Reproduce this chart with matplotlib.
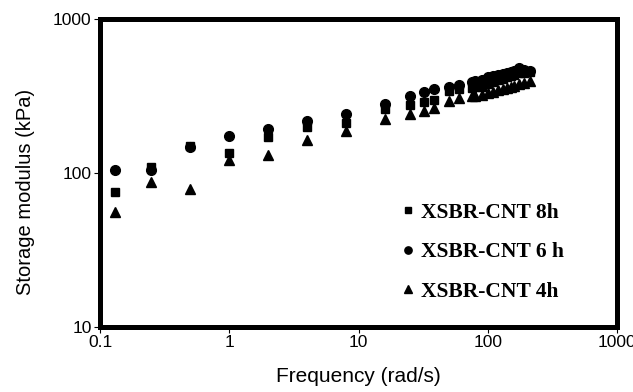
import matplotlib
matplotlib.use("Agg")
import matplotlib.pyplot as plt

freq = [0.13, 0.25, 0.5, 1, 2, 4, 8, 16, 25, 32, 38, 50, 60,
        75, 80, 90, 100, 110, 120, 130, 140, 150, 160, 175, 190, 210]

g_8h = [75, 109, 151, 136, 171, 200, 211, 260, 275, 290, 300, 339, 351,
        355, 360, 365, 380, 390, 400, 410, 420, 430, 435, 445, 450, 457]
g_6h = [105, 105, 147, 173, 192, 217, 243, 282, 316, 336, 352, 360, 375,
        390, 395, 400, 420, 425, 435, 440, 450, 455, 460, 480, 470, 462]
g_4h = [56, 87, 79, 121, 131, 165, 189, 225, 243, 254, 264, 292, 307,
        315, 318, 320, 330, 335, 345, 350, 355, 365, 370, 380, 385, 394]

labels = ["XSBR-CNT 8h", "XSBR-CNT 6 h", "XSBR-CNT 4h"]

plt.rcParams['font.family'] = ['Liberation Sans', 'DejaVu Sans']

fig = plt.figure(figsize=(6.33, 3.92), dpi=100)
ax = fig.add_axes([0.158, 0.166, 0.817, 0.785])

ax.plot(freq, g_8h, linestyle='none', marker='s', ms=6, color='black', label=labels[0])
ax.plot(freq, g_6h, linestyle='none', marker='o', ms=7, color='black', label=labels[1])
ax.plot(freq, g_4h, linestyle='none', marker='^', ms=7, color='black', label=labels[2])

ax.set_xscale('log')
ax.set_yscale('log')
ax.set_xlim(0.1, 1000)
ax.set_ylim(10, 1000)
ax.set_xticks([0.1, 1, 10, 100, 1000])
ax.set_xticklabels(['0.1', '1', '10', '100', '1000'])
ax.set_yticks([10, 100, 1000])
ax.set_yticklabels(['10', '100', '1000'])
ax.minorticks_off()

for s in ax.spines.values():
    s.set_linewidth(3.6)
ax.tick_params(axis='both', which='major', length=4, width=0.8, labelsize=12.5, pad=2)

ax.set_xlabel('Frequency (rad/s)', fontsize=15, labelpad=12)
ax.set_ylabel('Storage modulus (kPa)', fontsize=14.5)
ax.yaxis.set_label_coords(-0.125, 0.44)

leg = ax.legend(loc='upper left', bbox_to_anchor=(0.585, 0.403), frameon=False,
                prop={'family': 'Liberation Serif', 'weight': 'bold', 'size': 15.5},
                handlelength=0.5, handletextpad=0.35, labelspacing=0.9,
                markerscale=0.75, borderpad=0, borderaxespad=0)

fig.savefig('out.png', dpi=100)
